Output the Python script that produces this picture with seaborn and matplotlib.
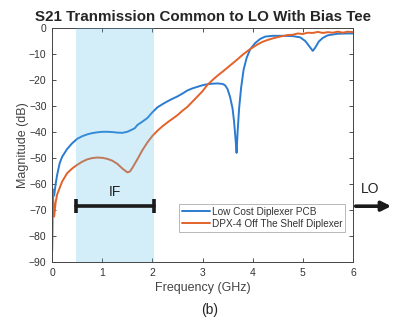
import numpy as np
import pandas as pd
import seaborn as sns
import matplotlib.pyplot as plt

# Low Cost Diplexer PCB (blue)
pcb_f = [0.00, 0.01, 0.02, 0.04, 0.07, 0.10, 0.15, 0.20, 0.30, 0.40, 0.50, 0.60, 0.70, 0.80, 0.90,
         1.00, 1.10, 1.20, 1.30, 1.40, 1.50, 1.60, 1.65, 1.70, 1.80, 1.90, 2.00, 2.10, 2.20,
         2.30, 2.40, 2.50, 2.60, 2.70, 2.80, 2.90, 3.00, 3.10, 3.20, 3.30, 3.40, 3.45, 3.50,
         3.55, 3.60, 3.63, 3.66, 3.68, 3.70, 3.73, 3.77, 3.82, 3.88, 3.95, 4.05, 4.15, 4.25,
         4.40, 4.60, 4.80, 4.95, 5.05, 5.15, 5.20, 5.25, 5.32, 5.40, 5.50, 5.70, 5.90, 6.00]
pcb_db = [-86, -62, -62.5, -64.5, -60, -56.5, -52, -49.5, -46.5, -44.3, -42.6, -41.6, -40.9, -40.4, -40.1,
          -39.9, -39.9, -40.0, -40.2, -40.3, -39.9, -39.0, -38.5, -37.3, -36.0, -34.6, -32.4, -30.5, -29.3,
          -28.2, -27.2, -26.3, -25.2, -24.0, -23.2, -22.6, -22.0, -21.6, -21.4, -21.3, -21.5, -22.0, -23.5,
          -26.5, -31, -36, -43, -48, -40, -31, -23, -16, -11.5, -8.2, -5.8, -4.2, -3.3,
          -3.0, -3.0, -3.1, -3.6, -5.0, -7.5, -8.8, -7.5, -5.2, -3.8, -2.8, -2.2, -2.1, -2.1]

# DPX-4 Off The Shelf Diplexer (orange)
dpx_f = [0.00, 0.01, 0.04, 0.07, 0.10, 0.15, 0.20, 0.30, 0.40, 0.50, 0.60, 0.70, 0.80, 0.90, 1.00,
         1.10, 1.20, 1.30, 1.40, 1.50, 1.55, 1.60, 1.70, 1.80, 1.90, 2.00, 2.10, 2.20, 2.30,
         2.40, 2.50, 2.60, 2.70, 2.80, 2.90, 3.00, 3.10, 3.20, 3.30, 3.40, 3.50, 3.60, 3.70,
         3.80, 3.90, 4.00, 4.10, 4.20, 4.30, 4.40, 4.50, 4.60, 4.70, 4.80, 4.90, 5.00, 5.10,
         5.20, 5.30, 5.40, 5.50, 5.60, 5.70, 5.80, 5.90, 6.00]
dpx_db = [-85, -62, -72.5, -67, -64, -61.5, -59, -55.8, -54, -52.6, -51.4, -50.5, -50.0, -49.8, -49.9,
          -50.3, -51.0, -52.2, -54.0, -55.5, -55.2, -53.8, -50.5, -47.0, -44.0, -41.5, -39.5, -37.8, -36.3,
          -34.9, -33.5, -31.8, -30.3, -28.3, -26.3, -24.3, -21.8, -20.0, -18.3, -16.8, -15.2, -13.6, -12.0,
          -10.3, -8.8, -7.5, -6.3, -5.3, -4.6, -4.0, -3.5, -3.1, -2.7, -2.6, -2.1, -2.3, -1.8,
          -1.9, -1.5, -1.9, -1.6, -1.8, -1.4, -1.8, -1.4, -1.6]

if_band = (0.48, 2.03)
if_level = -68.5
x_ticks = [0, 1, 2, 3, 4, 5, 6]
y_ticks = [0, -10, -20, -30, -40, -50, -60, -70, -80, -90]

blue = "#2b7bd0"
orange = "#e2622a"

sns.set_theme(style="white")
plt.rcParams['font.family'] = ['Liberation Sans', 'DejaVu Sans']

fig = plt.figure(figsize=(4.01, 3.22), dpi=100)
ax = fig.add_axes([0.130, 0.186, 0.750, 0.727])

pcb = pd.DataFrame({"f": pcb_f, "db": pcb_db})
dpx = pd.DataFrame({"f": dpx_f, "db": dpx_db})
sns.lineplot(data=pcb, x="f", y="db", ax=ax, color=blue, lw=1.4, sort=False,
             label="Low Cost Diplexer PCB")
sns.lineplot(data=dpx, x="f", y="db", ax=ax, color=orange, lw=1.4, sort=False,
             label="DPX-4 Off The Shelf Diplexer")

# translucent IF band drawn over the curves
ax.axvspan(if_band[0], if_band[1], color="#54bdeb", alpha=0.25, lw=0, zorder=3)

# IF bar with end caps
ax.plot(if_band, [if_level, if_level], color="k", lw=2.6, zorder=4)
ax.vlines(if_band, if_level - 2.8, if_level + 2.8, color="k", lw=2.6, zorder=4)
ax.text(sum(if_band) / 2, -63, "IF", ha="center", va="center", fontsize=10, color="#222222")

# LO arrow outside the axes
ax.annotate("", xy=(6.82, if_level), xytext=(6.0, if_level),
            arrowprops=dict(arrowstyle="-|>", lw=2.6, color="k", mutation_scale=14),
            annotation_clip=False)
ax.text(6.35, -62, "LO", ha="center", va="center", fontsize=10, color="#222222", clip_on=False)

ax.set_xlim(0, 6)
ax.set_ylim(-90, 0)
ax.set_xticks(x_ticks)
ax.set_yticks(y_ticks)
ax.tick_params(direction="in", length=3, width=0.6, labelsize=7.5, colors="#333333",
               top=True, right=True, bottom=True, left=True, pad=4)
for s in ax.spines.values():
    s.set_color("#444444")
    s.set_linewidth(0.7)

ax.set_xlabel("Frequency (GHz)", fontsize=9, color="#444444", labelpad=3)
ax.set_ylabel("Magnitude (dB)", fontsize=9, color="#444444", labelpad=0)
ax.set_title("S21 Tranmission Common to LO With Bias Tee", fontsize=10.9, fontweight="bold", pad=5)

leg = ax.legend(loc="lower right", bbox_to_anchor=(0.975, 0.13), fontsize=7.2, frameon=True,
                fancybox=False, borderpad=0.3, handlelength=2.8, handletextpad=0.2,
                labelspacing=0.2, borderaxespad=0)
leg.get_frame().set_edgecolor("#999999")
leg.get_frame().set_linewidth(0.6)
for t in leg.get_texts():
    t.set_color("#333333")

fig.text(0.524, 0.037, "(b)", ha="center", va="center", fontsize=10, color="#222222")

fig.savefig("out.png", dpi=100)
